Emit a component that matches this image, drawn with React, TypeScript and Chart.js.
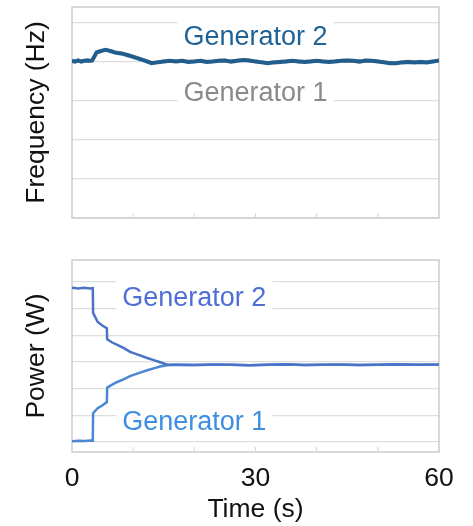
import React, { useEffect, useRef } from "react";
import { Chart, registerables } from "chart.js";

Chart.register(...registerables);

const FONT = "'Liberation Sans', Arial, sans-serif";

// ---- Frequency panel (Hz) ----
const freqTime = [
  0, 0.5, 1, 1.5, 2, 2.5, 3, 3.3, 3.7, 4, 4.5, 5, 5.5, 6, 6.5, 7, 8, 9, 10, 11,
  12, 13, 14, 15, 16, 17, 18, 19, 20, 21, 22, 23, 24, 25, 26, 27, 28, 29, 30,
  31, 32, 33, 34, 35, 36, 37, 38, 39, 40, 41, 42, 43, 44, 45, 46, 47, 48, 49,
  50, 51, 52, 53, 54, 55, 56, 57, 58, 59, 60,
];
const freqGen2 = [
  60.003, 60.001, 60.004, 60.001, 60.003, 60.004, 60.003, 60.004, 60.015, 60.024,
  60.027, 60.029, 60.031, 60.029, 60.027, 60.024, 60.022, 60.018, 60.013, 60.008,
  60.003, 59.997, 59.999, 60.001, 60.003, 60.001, 60.003, 60.0, 60.001, 60.003,
  60.0, 60.001, 60.003, 60.004, 60.001, 60.003, 60.005, 60.004, 60.001, 59.999,
  59.997, 59.999, 60.0, 60.001, 60.003, 60.001, 60.0, 60.001, 60.003, 60.001,
  60.0, 60.001, 60.003, 60.004, 60.003, 60.001, 60.004, 60.003, 60.001, 59.999,
  59.997, 59.997, 59.999, 60.0, 59.999, 60.0, 59.999, 60.001, 60.004,
];
const freqGen1 = [
  60.004, 60.002, 60.004, 60.002, 60.003, 60.005, 60.003, 60.005, 60.016, 60.025,
  60.028, 60.03, 60.031, 60.03, 60.028, 60.026, 60.023, 60.019, 60.014, 60.009,
  60.004, 59.998, 60.0, 60.002, 60.003, 60.002, 60.004, 60.001, 60.002, 60.003,
  60.001, 60.002, 60.004, 60.004, 60.002, 60.004, 60.005, 60.004, 60.002, 60.0,
  59.998, 60.0, 60.001, 60.002, 60.003, 60.002, 60.001, 60.002, 60.003, 60.002,
  60.001, 60.002, 60.003, 60.004, 60.003, 60.002, 60.004, 60.003, 60.002, 60.0,
  59.998, 59.998, 60.0, 60.001, 60.0, 60.001, 60.0, 60.002, 60.004,
];
const freqTicks = [59.6, 59.7, 59.8, 59.9, 60.0, 60.1];

// ---- Power panel (W) ----
const powerTime = [
  0, 1, 2, 3, 3.4, 3.45, 4.2, 5, 5.7, 5.75, 6.5, 7.4, 8.5, 9.5, 11, 12.3, 13.5,
  14.4, 15.5, 17, 20, 23, 26, 29, 32, 35, 38, 41, 44, 47, 50, 53, 56, 60,
];
const powerGen2 = [
  5.78, 5.76, 5.78, 5.76, 5.77, 4.84, 4.5, 4.36, 4.27, 3.85, 3.74, 3.64, 3.52,
  3.38, 3.26, 3.15, 3.06, 2.99, 2.91, 2.9, 2.89, 2.91, 2.9, 2.88, 2.9, 2.92,
  2.89, 2.9, 2.91, 2.89, 2.9, 2.92, 2.9, 2.91,
];
const powerGen1 = [
  0.03, 0.05, 0.04, 0.06, 0.05, 1.08, 1.27, 1.38, 1.5, 2.04, 2.14, 2.25, 2.36,
  2.47, 2.59, 2.69, 2.77, 2.83, 2.88, 2.9, 2.89, 2.9, 2.9, 2.88, 2.9, 2.91,
  2.89, 2.9, 2.9, 2.89, 2.9, 2.91, 2.9, 2.9,
];
const powerTicks = [0, 1, 2, 3, 4, 5, 6];

const timeTicks = [0, 30, 60];
const minorTimeTicks = [10, 20, 30, 40, 50];

const toPoints = (xs: number[], ys: number[]) => xs.map((x, i) => ({ x, y: ys[i] }));

const framePlugin = {
  id: "frame",
  beforeDatasetsDraw(chart: any) {
    const { ctx, chartArea: a, scales } = chart;
    ctx.save();
    ctx.strokeStyle = "#cdcdcd";
    ctx.lineWidth = 1.5;
    ctx.strokeRect(a.left, a.top, a.right - a.left, a.bottom - a.top);
    ctx.lineWidth = 1;
    ctx.strokeStyle = "#d6d6d6";
    for (const v of minorTimeTicks) {
      const px = scales.x.getPixelForValue(v);
      ctx.beginPath();
      ctx.moveTo(px, a.bottom);
      ctx.lineTo(px, a.bottom - 5);
      ctx.stroke();
    }
    ctx.restore();
  },
};

const tagPlugin = {
  id: "tags",
  afterDatasetsDraw(chart: any, _args: any, opts: any) {
    const { ctx, scales } = chart;
    for (const it of opts.items || []) {
      const x = scales.x.getPixelForValue(it.x);
      const y = scales.y.getPixelForValue(it.y);
      ctx.save();
      ctx.font = `27px ${FONT}`;
      const w = ctx.measureText(it.text).width + 12;
      ctx.fillStyle = "#ffffff";
      ctx.fillRect(x - w / 2, y - 16, w, 34);
      ctx.fillStyle = it.color;
      ctx.textAlign = "center";
      ctx.textBaseline = "middle";
      ctx.fillText(it.text, x, y + 2);
      ctx.restore();
    }
  },
};

const yTitle = (text: string) => ({
  display: true,
  text,
  color: "#111",
  font: { family: FONT, size: 26.5 },
  padding: { top: 21, bottom: 0 },
});

function ChartBox({ config, top, height }: { config: any; top: number; height: number }) {
  const ref = useRef<HTMLCanvasElement | null>(null);
  useEffect(() => {
    const c = new Chart(ref.current as HTMLCanvasElement, config);
    return () => c.destroy();
  }, []);
  return (
    <div style={{ position: "absolute", left: 0, top, width: 473, height }}>
      <canvas ref={ref} width={473} height={height} style={{ display: "block" }} />
    </div>
  );
}

const freqConfig = {
  type: "line",
  data: {
    datasets: [
      {
        label: "Generator 2",
        data: toPoints(freqTime, freqGen2),
        borderColor: "#215d8d",
        borderWidth: 4,
        pointRadius: 0,
        tension: 0,
      },
      {
        label: "Generator 1",
        data: toPoints(freqTime, freqGen1),
        borderColor: "#a8a8a8",
        borderWidth: 3.5,
        pointRadius: 0,
        tension: 0,
      },
    ],
  },
  options: {
    animation: false,
    responsive: false,
    layout: { padding: { top: 7, right: 34, bottom: 14, left: 0 } },
    plugins: {
      legend: { display: false },
      tooltip: { enabled: false },
      tags: {
        items: [
          { text: "Generator 2", x: 30, y: 60.069, color: "#1f6295" },
          { text: "Generator 1", x: 30, y: 59.923, color: "#8a8a8a" },
        ],
      },
    },
    scales: {
      x: { type: "linear", min: 0, max: 60, display: false },
      y: {
        min: 59.6,
        max: 60.141,
        afterBuildTicks: (s: any) => {
          s.ticks = freqTicks.map((v) => ({ value: v }));
        },
        afterFit: (s: any) => {
          s.width = 72;
        },
        ticks: { display: false },
        grid: { color: "#dedede", lineWidth: 1.2, drawTicks: false },
        border: { display: false },
        title: yTitle("Frequency (Hz)"),
      },
    },
  },
  plugins: [framePlugin, tagPlugin],
};

const powerConfig = {
  type: "line",
  data: {
    datasets: [
      {
        label: "Generator 2",
        data: toPoints(powerTime, powerGen2),
        borderColor: "#4a73c8",
        borderWidth: 2.5,
        pointRadius: 0,
        tension: 0,
      },
      {
        label: "Generator 1",
        data: toPoints(powerTime, powerGen1),
        borderColor: "#4a88d6",
        borderWidth: 2.5,
        pointRadius: 0,
        tension: 0,
      },
    ],
  },
  options: {
    animation: false,
    responsive: false,
    layout: { padding: { top: 20, right: 34, bottom: 0, left: 0 } },
    plugins: {
      legend: { display: false },
      tooltip: { enabled: false },
      tags: {
        items: [
          { text: "Generator 2", x: 20, y: 5.44, color: "#4f6fd6" },
          { text: "Generator 1", x: 20, y: 0.82, color: "#3e8de0" },
        ],
      },
    },
    scales: {
      x: {
        type: "linear",
        min: 0,
        max: 60,
        afterBuildTicks: (s: any) => {
          s.ticks = timeTicks.map((v) => ({ value: v }));
        },
        afterFit: (s: any) => {
          s.height = 74;
        },
        ticks: {
          color: "#111",
          font: { family: FONT, size: 26.5 },
          padding: 11,
          maxRotation: 0,
          autoSkip: false,
        },
        grid: { display: false, drawTicks: false },
        border: { display: false },
        title: {
          display: true,
          text: "Time (s)",
          color: "#111",
          font: { family: FONT, size: 26.5 },
          padding: { top: 0, bottom: 0 },
        },
      },
      y: {
        min: -0.375,
        max: 6.825,
        afterBuildTicks: (s: any) => {
          s.ticks = powerTicks.map((v) => ({ value: v }));
        },
        afterFit: (s: any) => {
          s.width = 72;
        },
        ticks: { display: false },
        grid: { color: "#dedede", lineWidth: 1.2, drawTicks: false },
        border: { display: false },
        title: yTitle("Power (W)"),
      },
    },
  },
  plugins: [framePlugin, tagPlugin],
};

export default function App() {
  return (
    <div
      style={{
        position: "fixed",
        left: 0,
        top: 0,
        width: 473,
        height: 526,
        background: "#ffffff",
        overflow: "hidden",
      }}
    >
      <ChartBox config={freqConfig} top={0} height={232} />
      <ChartBox config={powerConfig} top={240} height={286} />
    </div>
  );
}
